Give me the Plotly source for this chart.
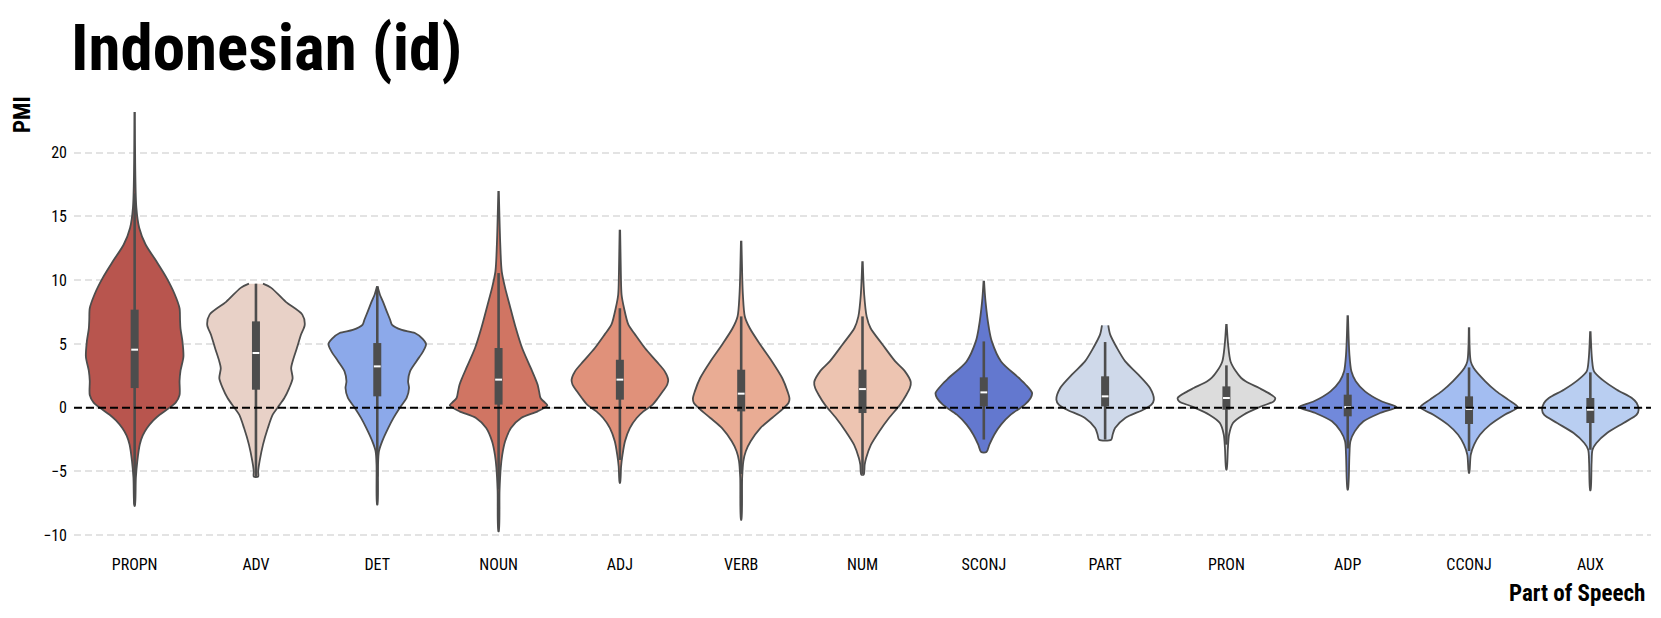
import plotly.graph_objects as go

# ---------------- data ----------------
categories = ["PROPN", "ADV", "DET", "NOUN", "ADJ", "VERB", "NUM",
              "SCONJ", "PART", "PRON", "ADP", "CCONJ", "AUX"]

# violin profiles: PMI levels and relative density (1 = widest point)
propn_y = [23.2, 15.7, 14.1, 12.8, 11.5, 10.2, 8.9, 7.8, 6.9, 6.2, 5.2, 4.0, 2.9, 2.1, 1.0, 0.4, -0.15, -0.55, -1.0, -1.6, -2.2, -2.9, -4.2, -5.5, -7.7]
propn_d = [0.0, 0.03, 0.09, 0.22, 0.44, 0.65, 0.82, 0.92, 0.93, 0.94, 0.98, 1.0, 0.94, 0.92, 0.92, 0.84, 0.66, 0.51, 0.38, 0.25, 0.16, 0.10, 0.05, 0.02, 0.0]

adv_y = [9.73, 9.4, 8.3, 7.3, 6.5, 5.7, 4.7, 3.63, 3.1, 2.3, 1.54, 0.76, 0.0, -0.55, -1.6, -2.9, -4.2, -5.0, -5.4]
adv_d = [0.14, 0.31, 0.61, 0.95, 1.0, 0.92, 0.84, 0.75, 0.72, 0.75, 0.68, 0.58, 0.44, 0.34, 0.24, 0.14, 0.07, 0.04, 0.04]

det_y = [9.52, 8.86, 8.34, 7.56, 6.9, 6.5, 6.1, 5.86, 5.4, 4.99, 4.42, 3.63, 2.85, 2.07, 1.54, 0.76, 0.0, -0.8, -1.6, -2.6, -3.4, -4.5, -7.6]
det_d = [0.0, 0.05, 0.11, 0.19, 0.26, 0.30, 0.50, 0.77, 0.93, 1.0, 0.94, 0.80, 0.67, 0.63, 0.65, 0.60, 0.46, 0.33, 0.22, 0.10, 0.03, 0.01, 0.0]

noun_y = [17.0, 12.8, 10.7, 9.4, 8.1, 6.25, 4.68, 3.1, 2.3, 1.8, 1.28, 0.76, 0.4, 0.18, -0.29, -0.81, -1.6, -2.64, -3.7, -4.7, -6.5, -9.7]
noun_d = [0.0, 0.03, 0.06, 0.13, 0.22, 0.35, 0.48, 0.66, 0.75, 0.80, 0.83, 0.86, 0.95, 1.0, 0.80, 0.46, 0.25, 0.13, 0.07, 0.04, 0.015, 0.0]

adj_y = [13.96, 10.5, 8.86, 7.82, 6.51, 5.73, 4.68, 3.63, 2.85, 2.2, 1.8, 1.28, 0.76, 0.24, -0.29, -0.81, -1.6, -2.64, -3.69, -4.6, -5.9]
adj_d = [0.0, 0.015, 0.03, 0.08, 0.17, 0.31, 0.51, 0.75, 0.92, 0.99, 0.97, 0.88, 0.78, 0.67, 0.48, 0.34, 0.20, 0.10, 0.05, 0.02, 0.0]

verb_y = [13.1, 10.5, 8.86, 7.16, 6.25, 4.94, 3.63, 2.33, 1.28, 0.71, 0.37, -0.03, -0.81, -1.6, -2.64, -3.42, -4.2, -5.5, -8.8]
verb_d = [0.0, 0.015, 0.03, 0.07, 0.17, 0.39, 0.63, 0.84, 0.95, 0.99, 0.97, 0.87, 0.63, 0.39, 0.19, 0.09, 0.04, 0.015, 0.0]

num_y = [11.48, 8.86, 7.16, 6.25, 4.94, 3.63, 2.85, 2.01, 1.54, 1.02, 0.24, -0.81, -1.86, -2.9, -3.95, -4.47, -5.25]
num_d = [0.0, 0.03, 0.08, 0.16, 0.41, 0.67, 0.87, 0.99, 0.97, 0.90, 0.77, 0.54, 0.34, 0.17, 0.07, 0.04, 0.02]

sconj_y = [9.96, 8.34, 6.25, 5.2, 3.63, 2.33, 1.8, 1.15, 0.76, 0.24, -0.55, -1.33, -2.12, -2.9, -3.48]
sconj_d = [0.0, 0.03, 0.10, 0.16, 0.35, 0.72, 0.86, 0.99, 0.96, 0.84, 0.55, 0.35, 0.21, 0.11, 0.05]

part_y = [6.46, 5.73, 4.68, 3.63, 2.59, 1.54, 0.63, 0.24, -0.16, -0.81, -1.6, -2.12, -2.51]
part_d = [0.06, 0.10, 0.24, 0.41, 0.68, 0.92, 1.0, 0.95, 0.78, 0.41, 0.20, 0.15, 0.12]

pron_y = [6.56, 4.94, 3.63, 2.85, 2.33, 2.07, 1.54, 1.28, 0.76, 0.5, 0.11, -0.55, -1.2, -2.1, -3.2, -4.86]
pron_d = [0.0, 0.03, 0.08, 0.19, 0.30, 0.39, 0.67, 0.80, 1.0, 0.97, 0.72, 0.35, 0.13, 0.05, 0.025, 0.0]

adp_y = [7.24, 4.16, 2.85, 2.07, 1.28, 0.5, 0.05, -0.42, -1.07, -1.86, -2.64, -3.69, -6.43]
adp_d = [0.0, 0.03, 0.07, 0.16, 0.35, 0.69, 1.0, 0.66, 0.32, 0.14, 0.05, 0.03, 0.0]

cconj_y = [6.3, 3.63, 3.11, 2.07, 1.28, 0.63, 0.03, -0.55, -1.33, -2.12, -2.9, -3.69, -5.12]
cconj_d = [0.0, 0.03, 0.09, 0.33, 0.56, 0.80, 1.0, 0.73, 0.43, 0.22, 0.10, 0.03, 0.0]

aux_y = [5.99, 3.76, 2.85, 2.2, 1.41, 0.76, 0.37, -0.16, -0.55, -1.2, -1.99, -2.77, -3.29, -4.34, -6.48]
aux_d = [0.0, 0.03, 0.07, 0.24, 0.54, 0.85, 0.95, 0.99, 0.95, 0.68, 0.34, 0.12, 0.04, 0.02, 0.0]

# inner box statistics
q1 = [1.54, 1.41, 0.89, 0.24, 0.63, -0.29, -0.42, 0.10, 0.10, -0.16, -0.68, -1.28, -1.20]
median = [4.55, 4.29, 3.24, 2.20, 2.20, 1.10, 1.46, 1.20, 0.89, 0.76, 0.05, -0.10, -0.16]
q3 = [7.69, 6.77, 5.07, 4.68, 3.76, 2.98, 2.98, 2.38, 2.46, 1.67, 1.02, 0.89, 0.76]
whisker_lo = [-7.6, -5.4, -5.4, -6.4, -4.1, -5.2, -5.2, -2.5, -2.5, -2.9, -3.2, -3.4, -3.3]
whisker_hi = [16.8, 9.73, 9.5, 10.56, 7.8, 7.16, 7.16, 5.2, 5.15, 3.32, 2.72, 3.16, 2.77]

colors = ["#b8554e", "#e8d1c7", "#8ca9ea", "#d07563", "#e0917a", "#e9ac94",
          "#edc4b1", "#6378cf", "#cfd9ea", "#dcdcdc", "#7189db", "#a3bdf1", "#b9cef1"]

profiles_y = [propn_y, adv_y, det_y, noun_y, adj_y, verb_y, num_y,
              sconj_y, part_y, pron_y, adp_y, cconj_y, aux_y]
profiles_d = [propn_d, adv_d, det_d, noun_d, adj_d, verb_d, num_d,
              sconj_d, part_d, pron_d, adp_d, cconj_d, aux_d]

# ---------------- styling ----------------
HALF_WIDTH = 0.4
EDGE = "#4d4d4d"
FONT = "Roboto Condensed, Liberation Sans Narrow, Arial Narrow, DejaVu Sans Condensed, sans-serif"

fig = go.Figure()

for i, cat in enumerate(categories):
    ys = profiles_y[i]
    ds = profiles_d[i]
    xs_right = [i + HALF_WIDTH * d + 0.002 for d in ds]
    xs_left = [i - HALF_WIDTH * d - 0.002 for d in ds]
    fig.add_trace(go.Scatter(
        x=xs_right + xs_left[::-1],
        y=ys + ys[::-1],
        mode="lines", fill="toself", fillcolor=colors[i],
        line=dict(color=EDGE, width=1.8, shape="spline", smoothing=0.8),
        hoverinfo="skip", showlegend=False))
    # whisker
    fig.add_trace(go.Scatter(
        x=[i, i], y=[whisker_lo[i], whisker_hi[i]], mode="lines",
        line=dict(color=EDGE, width=2.6), hoverinfo="skip", showlegend=False))
    # IQR box
    fig.add_trace(go.Scatter(
        x=[i, i], y=[q1[i], q3[i]], mode="lines",
        line=dict(color=EDGE, width=8), hoverinfo="skip", showlegend=False))
    # median
    fig.add_trace(go.Scatter(
        x=[i - 0.028, i + 0.028], y=[median[i], median[i]], mode="lines",
        line=dict(color="white", width=2), hoverinfo="skip", showlegend=False))

fig.add_shape(type="line", xref="paper", yref="y", x0=0, x1=1, y0=0, y1=0,
              line=dict(color="black", width=2, dash="8px,4px"), layer="above")

# the page body adds an 8px margin, so the figure is 8px smaller and shifted
fig.update_layout(
    width=1653, height=610,
    margin=dict(l=66, r=10, t=81, b=65),
    plot_bgcolor="white", paper_bgcolor="white",
    font=dict(family=FONT, color="black", size=16),
    showlegend=False,
    xaxis=dict(range=[-0.5, 12.5], tickmode="array",
               tickvals=list(range(len(categories))), ticktext=categories,
               showgrid=False, zeroline=False, showline=False, ticks="",
               tickfont=dict(size=16, family=FONT)),
    yaxis=dict(range=[-11.4, 25.0], tickmode="array",
               tickvals=[-10, -5, 0, 5, 10, 15, 20],
               ticktext=["\u221210", "\u22125", "0", "5", "10", "15", "20"],
               showgrid=True, gridcolor="#e3e3e3", gridwidth=1.5,
               griddash="7px,4px", zeroline=False, showline=False, ticks="",
               ticklabelstandoff=6, tickfont=dict(size=16, family=FONT)),
)

fig.add_annotation(text="<b>Indonesian (id)</b>", xref="paper", yref="paper",
                   x=-0.003, y=1.003, xanchor="left", yanchor="bottom",
                   showarrow=False, font=dict(size=65, family=FONT, color="black"))
fig.add_annotation(text="<b>PMI</b>", xref="paper", yref="paper",
                   x=-0.033, y=0.99, xanchor="center", yanchor="top", textangle=-90,
                   showarrow=False, font=dict(size=23, family=FONT, color="black"))
fig.add_annotation(text="<b>Part of Speech</b>", xref="paper", yref="paper",
                   x=0.9975, y=-0.087, xanchor="right", yanchor="middle",
                   showarrow=False, font=dict(size=23, family=FONT, color="black"))

fig.write_html("out.html")
